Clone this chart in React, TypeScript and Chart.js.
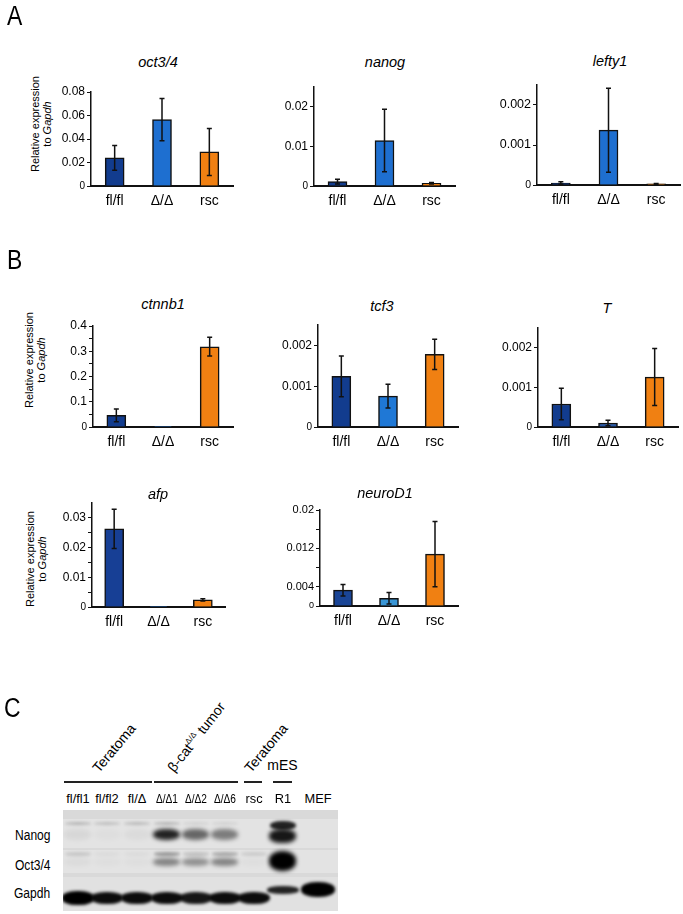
import React, { useEffect, useRef } from 'react';
import { Chart, registerables } from 'chart.js';

Chart.register(...registerables);

const FONT = '"Liberation Sans", Arial, Helvetica, sans-serif';

// ---------- data ----------
const groups = ['fl/fl', 'Δ/Δ', 'rsc'];

const oct34Values = [0.024, 0.0565, 0.029];
const oct34Errors = [0.0105, 0.018, 0.02];
const nanogValues = [0.0011, 0.0115, 0.0007];
const nanogErrors = [0.0006, 0.0079, 0.0002];
const lefty1Values = [0.00005, 0.00137, 0.00003];
const lefty1Errors = [0.00003, 0.00105, 0.00001];

const ctnnb1Values = [0.046, 0.001, 0.318];
const ctnnb1Errors = [0.025, 0, 0.037];
const tcf3Values = [0.00124, 0.000755, 0.00178];
const tcf3Errors = [0.0005, 0.00029, 0.00037];
const tValues = [0.00058, 0.0001, 0.00126];
const tErrors = [0.0004, 0.00007, 0.00072];
const afpValues = [0.0263, 0.0001, 0.0024];
const afpErrors = [0.0066, 0, 0.0004];
const neuroD1Values = [0.0033, 0.0016, 0.0108];
const neuroD1Errors = [0.0012, 0.0012, 0.0068];

const ticksOct34 = [0, 0.02, 0.04, 0.06, 0.08];
const labelsOct34 = ['0', '0.02', '0.04', '0.06', '0.08'];
const ticksNanog = [0, 0.01, 0.02];
const labelsNanog = ['0', '0.01', '0.02'];
const ticksSmall = [0, 0.001, 0.002];
const labelsSmall = ['0', '0.001', '0.002'];
const ticksCtnnb1 = [0, 0.05, 0.1, 0.15, 0.2, 0.25, 0.3, 0.35, 0.4];
const labelsCtnnb1 = ['0', '', '0.1', '', '0.2', '', '0.3', '', '0.4'];
const ticksAfp = [0, 0.005, 0.01, 0.015, 0.02, 0.025, 0.03];
const labelsAfp = ['0', '', '0.01', '', '0.02', '', '0.03'];
const ticksNeuroD1 = [0, 0.004, 0.008, 0.012, 0.016, 0.02];
const labelsNeuroD1 = ['0', '0.004', '', '0.012', '', '0.02'];

// western blot
const blotLanes = ['fl/fl1', 'fl/fl2', 'fl/Δ', 'Δ/Δ1', 'Δ/Δ2', 'Δ/Δ6', 'rsc', 'R1', 'MEF'];
const nanogUpper = [0.2, 0.16, 0.18, 0.2, 0.08, 0.08, 0, 0.85, 0];
const nanogMain = [0.05, 0.02, 0.03, 0.85, 0.55, 0.45, 0, 0.9, 0];
const oct34Upper = [0.12, 0.03, 0.03, 0.32, 0.15, 0.25, 0.1, 0, 0];
const oct34Main = [0.03, 0.02, 0.02, 0.42, 0.36, 0.42, 0.02, 1, 0];
const gapdhMain = [1, 0.95, 0.95, 0.95, 0.9, 0.95, 0.95, 0.85, 1];

// ---------- colours / layout ----------
const NAVY = '#123c8e';
const BLUE = '#1e6fd0';
const ORANGE = '#f08012';

type Box = { axisX: number; right: number; top: number; base: number };
type Spec = {
  title: string;
  values: number[];
  errors: number[];
  colors: string[];
  max: number;
  ticks: number[];
  tickLabels: string[];
  tickFont: number;
  box: Box;
  titlePos: [number, number];
};

const specs: Spec[] = [
  { title: 'oct3/4', values: oct34Values, errors: oct34Errors, colors: [NAVY, BLUE, ORANGE], max: 0.08, ticks: ticksOct34, tickLabels: labelsOct34, tickFont: 12, box: { axisX: 91, right: 233, top: 92, base: 186 }, titlePos: [158, 62] },
  { title: 'nanog', values: nanogValues, errors: nanogErrors, colors: [NAVY, BLUE, ORANGE], max: 0.025, ticks: ticksNanog, tickLabels: labelsNanog, tickFont: 12, box: { axisX: 314, right: 455, top: 87, base: 186 }, titlePos: [385, 62] },
  { title: 'lefty1', values: lefty1Values, errors: lefty1Errors, colors: [NAVY, BLUE, ORANGE], max: 0.0025, ticks: ticksSmall, tickLabels: labelsSmall, tickFont: 12.5, box: { axisX: 537, right: 680, top: 85, base: 185 }, titlePos: [610, 61] },
  { title: 'ctnnb1', values: ctnnb1Values, errors: ctnnb1Errors, colors: [NAVY, BLUE, ORANGE], max: 0.4, ticks: ticksCtnnb1, tickLabels: labelsCtnnb1, tickFont: 12, box: { axisX: 93, right: 233, top: 326, base: 427 }, titlePos: [163, 304] },
  { title: 'tcf3', values: tcf3Values, errors: tcf3Errors, colors: [NAVY, '#1f78d6', ORANGE], max: 0.0025, ticks: ticksSmall, tickLabels: labelsSmall, tickFont: 12, box: { axisX: 318, right: 458, top: 325, base: 427 }, titlePos: [382, 306] },
  { title: 'T', values: tValues, errors: tErrors, colors: [NAVY, '#2556a6', ORANGE], max: 0.0025, ticks: ticksSmall, tickLabels: labelsSmall, tickFont: 12, box: { axisX: 538, right: 678, top: 328, base: 427 }, titlePos: [607, 308] },
  { title: 'afp', values: afpValues, errors: afpErrors, colors: ['#173f95', BLUE, ORANGE], max: 0.035, ticks: ticksAfp, tickLabels: labelsAfp, tickFont: 12, box: { axisX: 92, right: 225, top: 503, base: 607 }, titlePos: [158, 494] },
  { title: 'neuroD1', values: neuroD1Values, errors: neuroD1Errors, colors: ['#1a4596', '#3996d6', ORANGE], max: 0.02, ticks: ticksNeuroD1, tickLabels: labelsNeuroD1, tickFont: 11, box: { axisX: 320, right: 458, top: 510, base: 606 }, titlePos: [385, 493] },
];

const PAD_L = 60;
const PAD_T = 10;
const PAD_R = 4;
const PAD_B = 30;

function BarPanel({ spec }: { spec: Spec }) {
  const ref = useRef<HTMLCanvasElement>(null);
  const { axisX, right, top, base } = spec.box;
  const left = axisX - PAD_L;
  const cTop = top - PAD_T;
  const width = right + PAD_R - left;
  const height = base + PAD_B - cTop;

  useEffect(() => {
    if (!ref.current) return;
    const errorPlugin = {
      id: 'errorBars',
      afterDatasetsDraw(chart: any) {
        const meta = chart.getDatasetMeta(0);
        const y = chart.scales.y;
        const ctx = chart.ctx;
        ctx.save();
        ctx.strokeStyle = '#111';
        ctx.lineWidth = 1.5;
        meta.data.forEach((bar: any, i: number) => {
          const e = spec.errors[i];
          if (!e) return;
          const v = spec.values[i];
          const y1 = y.getPixelForValue(v + e);
          const y0 = y.getPixelForValue(Math.max(v - e, 0));
          const x = bar.x;
          ctx.beginPath();
          ctx.moveTo(x, y0);
          ctx.lineTo(x, y1);
          ctx.moveTo(x - 2.5, y1);
          ctx.lineTo(x + 2.5, y1);
          ctx.moveTo(x - 2.5, y0);
          ctx.lineTo(x + 2.5, y0);
          ctx.stroke();
        });
        ctx.restore();
      },
    };
    const chart = new Chart(ref.current, {
      type: 'bar',
      data: {
        labels: groups,
        datasets: [
          {
            data: spec.values,
            backgroundColor: spec.colors,
            borderColor: '#111',
            borderWidth: 1.5,
            barThickness: 19,
          },
        ],
      },
      options: {
        animation: false,
        responsive: false,
        maintainAspectRatio: false,
        layout: { padding: { left: 0, top: PAD_T, right: PAD_R, bottom: 0 } },
        plugins: { legend: { display: false }, tooltip: { enabled: false }, title: { display: false } },
        scales: {
          x: {
            grid: { display: false, drawTicks: false },
            border: { display: true, color: '#111', width: 2 },
            ticks: { color: '#000', font: { family: FONT, size: 14 }, padding: 7, maxRotation: 0, autoSkip: false },
            afterFit: (s: any) => {
              s.height = PAD_B;
            },
          },
          y: {
            min: 0,
            max: spec.max,
            afterBuildTicks: (s: any) => {
              s.ticks = spec.ticks.map((v) => ({ value: v }));
            },
            grid: { drawOnChartArea: false, drawTicks: true, tickLength: 4, color: '#111', tickWidth: 1 },
            border: { display: true, color: '#111', width: 1.5 },
            ticks: {
              color: '#000',
              padding: 2,
              autoSkip: false,
              font: (c: any) => ({ family: FONT, size: c.tick && c.tick.value === 0 ? spec.tickFont - 2 : spec.tickFont }),
              callback: (_v: any, i: number) => spec.tickLabels[i],
            },
            afterFit: (s: any) => {
              s.width = PAD_L;
            },
          },
        },
      },
      plugins: [errorPlugin],
    } as any);
    return () => chart.destroy();
  }, []);

  return (
    <>
      <canvas ref={ref} width={width} height={height} style={{ position: 'absolute', left, top: cTop, width, height }} />
      <div style={{ position: 'absolute', left: spec.titlePos[0], top: spec.titlePos[1], transform: 'translate(-50%,-50%)', font: `italic 14.5px ${FONT}`, lineHeight: '15px', whiteSpace: 'nowrap', color: '#000' }}>
        {spec.title}
      </div>
    </>
  );
}

function Txt({ x, y, size = 14, children, style }: { x: number; y: number; size?: number; children: any; style?: any }) {
  return (
    <div style={{ position: 'absolute', left: x, top: y, transform: 'translate(-50%,-50%)', fontFamily: FONT, fontSize: size, lineHeight: `${size}px`, whiteSpace: 'nowrap', color: '#000', ...style }}>
      {children}
    </div>
  );
}

function YLabel({ x, y }: { x: number; y: number }) {
  return (
    <div style={{ position: 'absolute', left: x, top: y, transform: 'translate(-50%,-50%) rotate(-90deg)', fontFamily: FONT, fontSize: 11, lineHeight: '12px', whiteSpace: 'nowrap', textAlign: 'center', color: '#000' }}>
      Relative expression
      <br />
      to <i>Gapdh</i>
    </div>
  );
}

function Letter({ x, y, children }: { x: number; y: number; children: any }) {
  return (
    <div style={{ position: 'absolute', left: x, top: y, fontFamily: FONT, fontSize: 27, lineHeight: '27px', color: '#000', transform: 'scaleX(0.85)', transformOrigin: 'left top' }}>
      {children}
    </div>
  );
}

// blot layout
const laneCenters = [77.5, 107, 137, 166.5, 195.5, 224.5, 253.5, 282.5, 317.5];
const BLOT_L = 63;
const BLOT_T = 810;

function Band({ cx, cy, w, h, a, blur = 1.8 }: { cx: number; cy: number; w: number; h: number; a: number; blur?: number }) {
  if (a <= 0) return null;
  return (
    <div
      style={{
        position: 'absolute',
        left: cx - w / 2 - BLOT_L,
        top: cy - h / 2 - BLOT_T,
        width: w,
        height: h,
        borderRadius: '45%',
        background: `rgba(0,0,0,${a})`,
        filter: `blur(${blur}px)`,
      }}
    />
  );
}

function Blot() {
  const bands: any[] = [];
  blotLanes.forEach((_, i) => {
    const cx = laneCenters[i];
    const isR1 = i === 7;
    const isMEF = i === 8;
    bands.push(<Band key={`nu${i}`} cx={cx} cy={isR1 ? 825 : 823.5} w={26} h={isR1 ? 9 : 3} a={nanogUpper[i]} />);
    bands.push(<Band key={`nm${i}`} cx={cx} cy={isR1 ? 836 : 834} w={27} h={isR1 ? 14 : 11} a={nanogMain[i]} blur={2.2} />);
    bands.push(<Band key={`ou${i}`} cx={cx} cy={853.5} w={26} h={4} a={oct34Upper[i]} />);
    bands.push(<Band key={`om${i}`} cx={cx} cy={isR1 ? 861 : 862} w={isR1 ? 27 : 27} h={isR1 ? 20 : 8} a={oct34Main[i]} blur={2.2} />);
    bands.push(
      <Band key={`g${i}`} cx={cx} cy={isR1 ? 890 : isMEF ? 889 : 898} w={isMEF ? 34 : 32} h={isR1 ? 8 : isMEF ? 15 : i === 0 ? 14 : 12} a={gapdhMain[i]} blur={1.5} />
    );
  });
  return (
    <div style={{ position: 'absolute', left: BLOT_L, top: BLOT_T, width: 275, height: 101, background: '#d9d9d9', overflow: 'hidden' }}>
      <div style={{ position: 'absolute', left: 0, top: 9, width: 275, height: 29, background: '#e3e3e3' }} />
      <div style={{ position: 'absolute', left: 0, top: 40, width: 275, height: 23, background: '#e3e3e3' }} />
      <div style={{ position: 'absolute', left: 0, top: 67, width: 275, height: 34, background: '#e1e1e1' }} />
      {bands}
    </div>
  );
}

export default function App() {
  return (
    <div style={{ position: 'absolute', left: 0, top: 0, width: 683, height: 914, background: '#fff', overflow: 'hidden' }}>
      <Letter x={7} y={3}>A</Letter>
      <Letter x={7} y={247}>B</Letter>
      <Letter x={4} y={695}>C</Letter>

      <YLabel x={40.5} y={124} />
      <YLabel x={35} y={360} />
      <YLabel x={35.5} y={559} />

      {specs.map((s) => (
        <BarPanel key={s.title} spec={s} />
      ))}

      {/* Panel C headers */}
      <Txt x={114} y={748} style={{ transform: 'translate(-50%,-50%) rotate(-50deg)' }}>Teratoma</Txt>
      <Txt x={195} y={736} style={{ transform: 'translate(-50%,-50%) rotate(-52deg)' }}>
        β-cat<sup style={{ fontSize: 8, verticalAlign: '6px' }}>Δ/Δ</sup> tumor
      </Txt>
      <Txt x={266} y={748} style={{ transform: 'translate(-50%,-50%) rotate(-50deg)' }}>Teratoma</Txt>
      <Txt x={282.5} y={765}>mES</Txt>

      <div style={{ position: 'absolute', left: 64, top: 781, width: 88, height: 2, background: '#222' }} />
      <div style={{ position: 'absolute', left: 154, top: 781, width: 84, height: 2, background: '#222' }} />
      <div style={{ position: 'absolute', left: 244, top: 781, width: 18, height: 2, background: '#222' }} />
      <div style={{ position: 'absolute', left: 273, top: 781, width: 19, height: 2, background: '#222' }} />

      {blotLanes.map((l, i) => (
        <Txt key={l} x={laneCenters[i]} y={799} size={13.5} style={{ transform: `translate(-50%,-50%) scaleX(${l.includes('Δ/Δ') ? 0.75 : 0.95})` }}>
          {l}
        </Txt>
      ))}

      <div style={{ position: 'absolute', left: 15, top: 835, transform: 'translateY(-50%) scaleX(0.86)', transformOrigin: 'left center', fontFamily: FONT, fontSize: 14, lineHeight: '14px' }}>Nanog</div>
      <div style={{ position: 'absolute', left: 15, top: 865, transform: 'translateY(-50%) scaleX(0.86)', transformOrigin: 'left center', fontFamily: FONT, fontSize: 14, lineHeight: '14px' }}>Oct3/4</div>
      <div style={{ position: 'absolute', left: 14, top: 893, transform: 'translateY(-50%) scaleX(0.86)', transformOrigin: 'left center', fontFamily: FONT, fontSize: 14, lineHeight: '14px' }}>Gapdh</div>

      <Blot />
    </div>
  );
}
